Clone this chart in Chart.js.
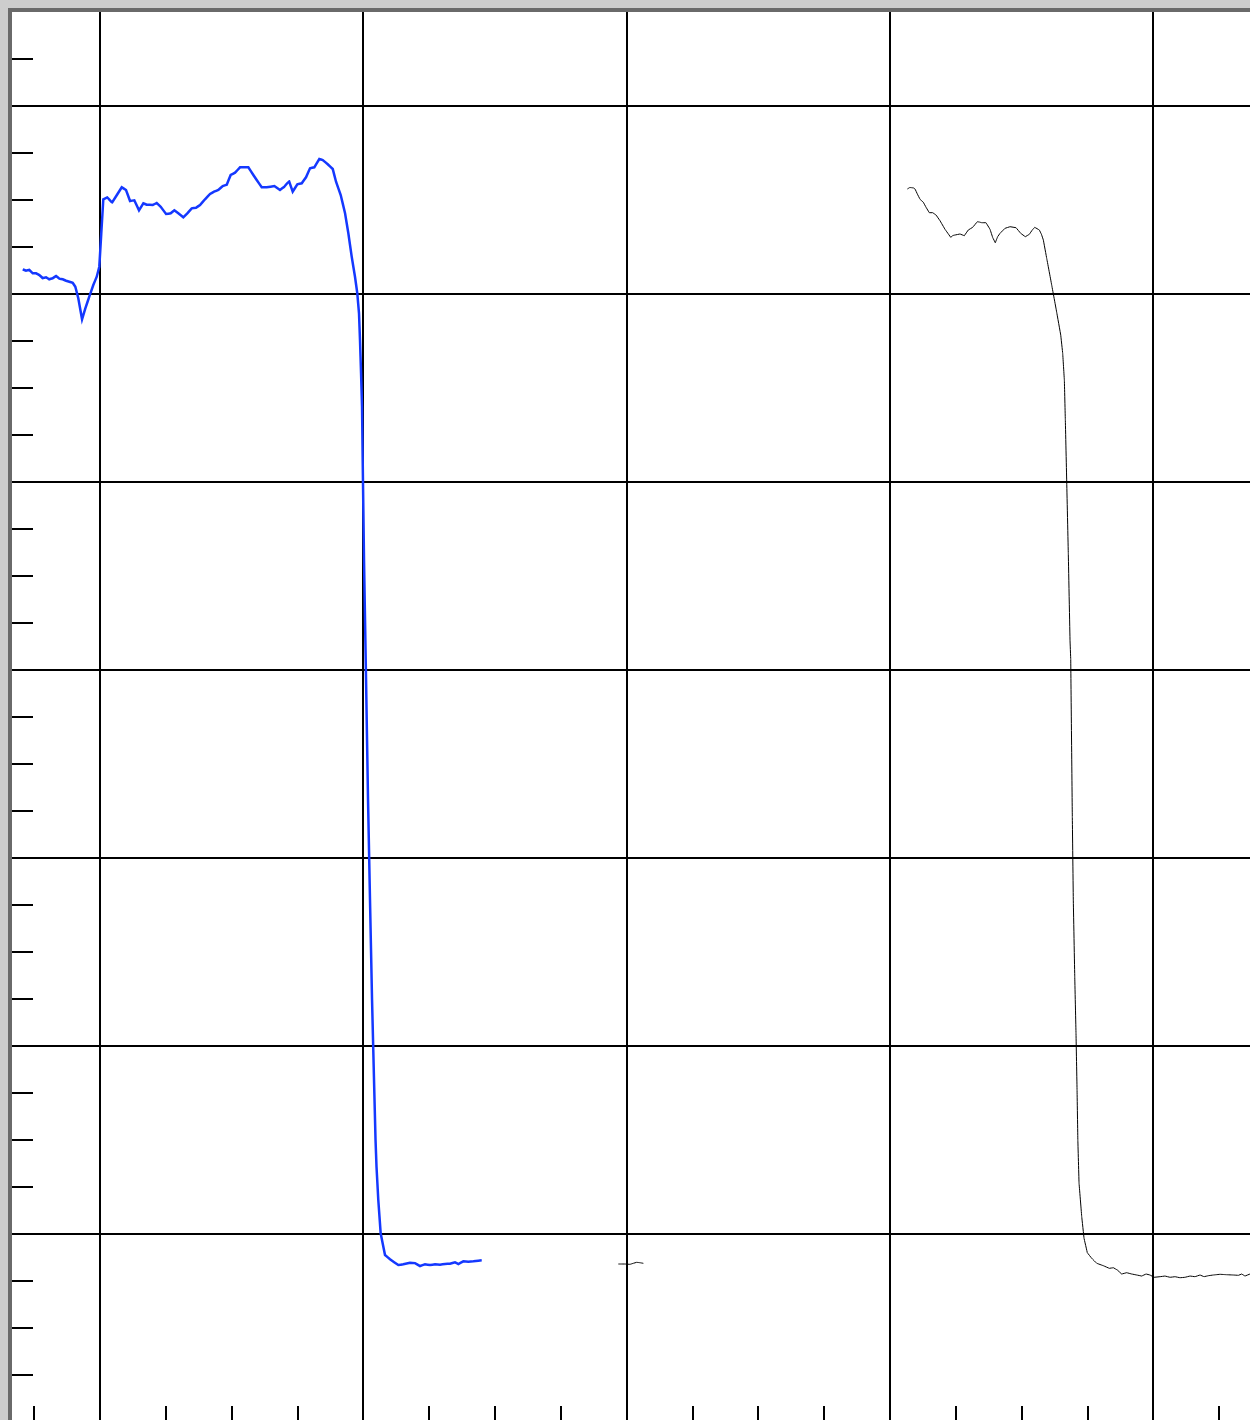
<!DOCTYPE html>
<html>
<head>
<meta charset="utf-8">
<script src="https://cdn.jsdelivr.net/npm/chart.js@4/dist/chart.umd.min.js"></script>
<style>
    html, body { margin: 0; padding: 0; background: #cdcdcd; width: 1250px; height: 1420px; overflow: hidden; }
    #frame {
        position: absolute; left: 8px; top: 8px;
        width: 1238px; height: 1408px;
        border-left: 4px solid #6a6a6a; border-top: 4px solid #6a6a6a;
        background: #fff;
    }
    canvas { display: block; }
</style>
</head>
<body>
<div id="frame"><canvas id="scope" width="1238" height="1408"></canvas></div>
<script>
// axis ranges (in minor divisions, a major line every 4)
const xRange = [-1.337, 17.468];
const yRange = [-3.957, 26];
const majorEvery = 4;

// trace 1 (blue)
const blueX = [-1.174, -1.124, -1.074, -1.022, -0.972, -0.922, -0.872, -0.820, -0.772, -0.720,
    -0.668, -0.618, -0.567, -0.516, -0.466, -0.415, -0.375, -0.330, -0.273, -0.223,
    -0.163, -0.102, -0.050, -0.011, 0.050, 0.111, 0.182, 0.330, 0.395, 0.456,
    0.521, 0.592, 0.658, 0.709, 0.801, 0.861, 0.922, 1.003, 1.074, 1.129,
    1.189, 1.265, 1.326, 1.393, 1.458, 1.519, 1.595, 1.671, 1.732, 1.797,
    1.864, 1.925, 1.985, 2.051, 2.127, 2.253, 2.329, 2.380, 2.456, 2.532,
    2.648, 2.734, 2.800, 2.871, 2.927, 2.997, 3.064, 3.129, 3.190, 3.255,
    3.331, 3.383, 3.459, 3.535, 3.585, 3.656, 3.722, 3.772, 3.823, 3.873,
    3.908, 3.934, 3.949, 3.965, 3.980, 3.990, 4.010, 4.041, 4.071, 4.101,
    4.132, 4.162, 4.185, 4.200, 4.227, 4.263, 4.329, 4.405, 4.531, 4.607,
    4.709, 4.785, 4.861, 4.937, 5.013, 5.089, 5.165, 5.241, 5.316, 5.392,
    5.443, 5.519, 5.595, 5.671, 5.746, 5.798];
const blueY = [20.526, 20.496, 20.511, 20.440, 20.440, 20.404, 20.340, 20.355, 20.313, 20.334,
    20.383, 20.326, 20.313, 20.283, 20.262, 20.240, 20.155, 19.909, 19.462, 19.696,
    19.943, 20.191, 20.368, 20.581, 22.015, 22.057, 21.943, 22.270, 22.213, 21.979,
    21.994, 21.781, 21.930, 21.900, 21.894, 21.936, 21.857, 21.702, 21.717, 21.781,
    21.717, 21.632, 21.717, 21.823, 21.836, 21.894, 22.015, 22.128, 22.177, 22.213,
    22.298, 22.326, 22.532, 22.581, 22.696, 22.696, 22.532, 22.426, 22.270, 22.270,
    22.298, 22.213, 22.283, 22.404, 22.177, 22.334, 22.355, 22.483, 22.674, 22.696,
    22.872, 22.851, 22.760, 22.660, 22.389, 22.106, 21.717, 21.291, 20.794, 20.368,
    20.015, 19.589, 19.021, 18.319, 17.602, 16.468, 14.340, 11.787, 9.234, 7.106,
    4.979, 3.277, 2.000, 1.426, 0.723, 0.015, -0.447, -0.538, -0.660, -0.645,
    -0.611, -0.619, -0.681, -0.645, -0.660, -0.645, -0.653, -0.638, -0.632, -0.602,
    -0.638, -0.581, -0.589, -0.581, -0.568, -0.560];

// trace 2 (black), a short piece near x=8 then the main sweep
const blackX = [7.873, 7.975, 8.051, 8.101, 8.152, 8.203, 8.253, 10.0,
    12.263, 12.300, 12.330, 12.360, 12.380, 12.415, 12.456, 12.506, 12.547, 12.597, 12.648, 12.699,
    12.759, 12.835, 12.922, 12.955, 12.987, 13.063, 13.128, 13.189, 13.256, 13.326, 13.360, 13.393,
    13.458, 13.519, 13.560, 13.599, 13.635, 13.671, 13.747, 13.823, 13.914, 13.985, 14.055, 14.116,
    14.160, 14.198, 14.268, 14.300, 14.329, 14.380, 14.456, 14.532, 14.593, 14.623, 14.648, 14.663,
    14.684, 14.708, 14.734, 14.745, 14.769, 14.784, 14.806, 14.825, 14.841, 14.853,
    14.871, 14.912, 14.947, 14.997, 15.064, 15.140, 15.240, 15.331, 15.392, 15.453,
    15.519, 15.595, 15.671, 15.747, 15.823, 15.889, 15.949, 16.010, 16.101, 16.177,
    16.253, 16.329, 16.405, 16.481, 16.557, 16.633, 16.709, 16.770, 16.835, 16.911,
    17.013, 17.114, 17.215, 17.291, 17.342, 17.392, 17.468, 17.520];
const blackY = [-0.638, -0.638, -0.645, -0.623, -0.602, -0.611, -0.623, null,
    22.234, 22.266, 22.262, 22.255, 22.234, 22.128, 22.015, 21.951, 21.845, 21.730, 21.730, 21.681,
    21.560, 21.377, 21.206, 21.245, 21.255, 21.277, 21.240, 21.362, 21.419, 21.538, 21.530, 21.517,
    21.517, 21.377, 21.200, 21.091, 21.220, 21.291, 21.398, 21.432, 21.411, 21.291, 21.219, 21.270,
    21.360, 21.419, 21.362, 21.270, 21.149, 20.760, 20.190, 19.610, 19.128, 18.738, 18.170, 17.319,
    16.006, 14.483, 12.638, 12.228, 8.879, 7.106, 5.474, 4.277, 3.064, 2.000,
    1.085, 0.368, -0.091, -0.398, -0.517, -0.623, -0.674, -0.730, -0.717, -0.766,
    -0.851, -0.823, -0.851, -0.872, -0.894, -0.851, -0.872, -0.921, -0.908, -0.894,
    -0.921, -0.908, -0.930, -0.921, -0.894, -0.908, -0.872, -0.908, -0.887, -0.872,
    -0.857, -0.866, -0.872, -0.879, -0.851, -0.894, -0.851, -0.870];

function toPoints(xs, ys) {
    return xs.map((x, i) => ({ x: x, y: ys[i] }));
}

function isMajor(v) {
    return Math.abs(v % majorEvery) < 1e-6;
}

// short marks on the inside of the left and bottom edges
const minorMarks = {
    id: 'minorMarks',
    afterDatasetsDraw(chart) {
        const { ctx, chartArea, scales } = chart;
        ctx.save();
        ctx.strokeStyle = '#000';
        ctx.lineWidth = 2;
        ctx.beginPath();
        scales.y.ticks.forEach(t => {
            if (isMajor(t.value)) return;
            const py = Math.round(scales.y.getPixelForValue(t.value));
            if (py <= chartArea.top + 2 || py >= chartArea.bottom - 2) return;
            ctx.moveTo(chartArea.left, py);
            ctx.lineTo(chartArea.left + 21, py);
        });
        scales.x.ticks.forEach(t => {
            if (isMajor(t.value)) return;
            const px = Math.round(scales.x.getPixelForValue(t.value));
            if (px <= chartArea.left + 2 || px >= chartArea.right - 2) return;
            ctx.moveTo(px, chartArea.bottom);
            ctx.lineTo(px, chartArea.bottom - 14);
        });
        ctx.stroke();
        ctx.restore();
    }
};

const gridOpts = {
    color: c => (c.tick && isMajor(c.tick.value)) ? '#000' : 'rgba(0,0,0,0)',
    lineWidth: 2,
    drawTicks: false
};

new Chart(document.getElementById('scope'), {
    type: 'line',
    data: {
        datasets: [{
            label: 'trace 1',
            data: toPoints(blueX, blueY),
            borderColor: '#1438ff',
            borderWidth: 2.5,
            pointRadius: 0,
            tension: 0.0001   // tiny tension keeps the full path (no per-pixel fast path)
        }, {
            label: 'trace 2',
            data: toPoints(blackX, blackY),
            borderColor: '#000',
            borderWidth: 1,
            pointRadius: 0,
            tension: 0.0001,
            spanGaps: false
        }]
    },
    options: {
        responsive: false,
        animation: false,
        layout: { padding: 0 },
        plugins: { legend: { display: false }, tooltip: { enabled: false } },
        scales: {
            x: {
                type: 'linear',
                min: xRange[0], max: xRange[1],
                ticks: { display: false, stepSize: 1, includeBounds: false },
                grid: gridOpts,
                border: { display: false }
            },
            y: {
                type: 'linear',
                min: yRange[0], max: yRange[1],
                ticks: { display: false, stepSize: 1, includeBounds: false },
                grid: gridOpts,
                border: { display: false }
            }
        }
    },
    plugins: [minorMarks]
});
</script>
</body>
</html>
